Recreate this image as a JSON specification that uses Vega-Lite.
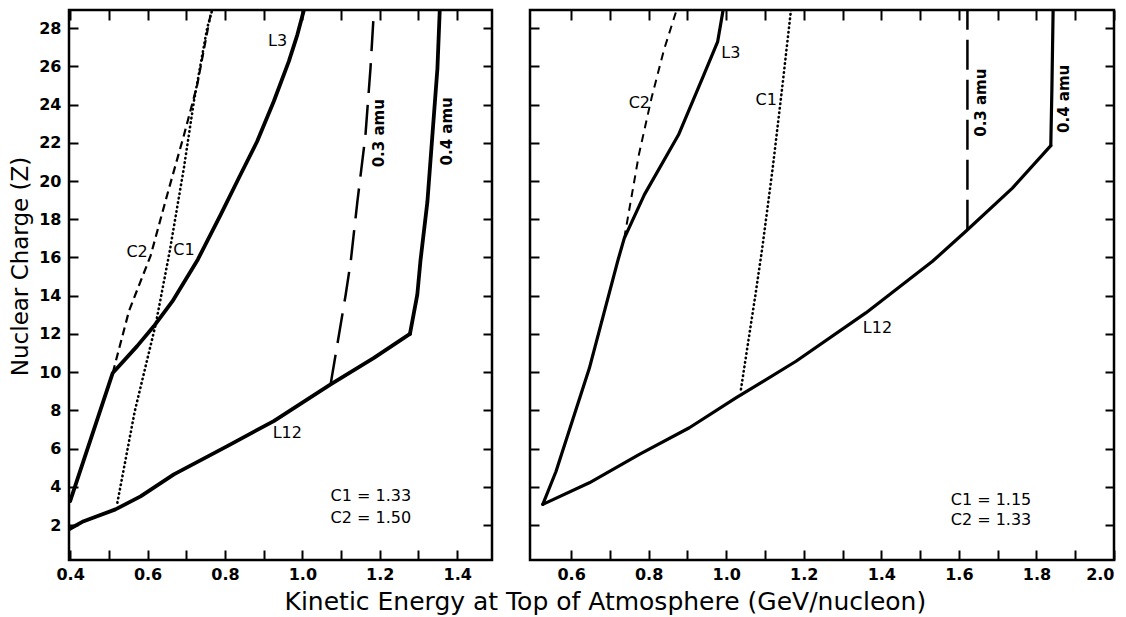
{
  "$schema": "https://vega.github.io/schema/vega-lite/v6.json",
  "background": "white",
  "padding": {"left": 8, "top": 7, "right": 0, "bottom": 0},
  "config": {
    "view": {"stroke": "black", "strokeWidth": 2.5},
    "font": "DejaVu Sans",
    "axis": {
      "domain": false, "grid": false, "tickColor": "black", "tickWidth": 2,
      "labelColor": "black", "labelFont": "DejaVu Sans", "labelFontWeight": "bold", "labelFontSize": 16,
      "titleColor": "black", "titleFont": "DejaVu Sans", "titleFontWeight": "normal", "titleFontSize": 23,
      "labelFlush": false, "labelOverlap": false
    }
  },
  "title": {"text": "Kinetic Energy at Top of Atmosphere (GeV/nucleon)", "orient": "bottom", "anchor": "middle", "fontSize": 25, "fontWeight": "normal", "font": "DejaVu Sans", "color": "black", "offset": 6, "dx": 43},
  "spacing": 32,
  "datasets": {
    "left": [
      {"series": "L3", "i": 0, "x": 0.4, "y": 3.25},
      {"series": "L3", "i": 1, "x": 0.51, "y": 9.96},
      {"series": "L3", "i": 2, "x": 0.573, "y": 11.36},
      {"series": "L3", "i": 3, "x": 0.616, "y": 12.4},
      {"series": "L3", "i": 4, "x": 0.664, "y": 13.7},
      {"series": "L3", "i": 5, "x": 0.73, "y": 15.9},
      {"series": "L3", "i": 6, "x": 0.789, "y": 18.24},
      {"series": "L3", "i": 7, "x": 0.84, "y": 20.33},
      {"series": "L3", "i": 8, "x": 0.883, "y": 22.07},
      {"series": "L3", "i": 9, "x": 0.926, "y": 24.16},
      {"series": "L3", "i": 10, "x": 0.965, "y": 26.26},
      {"series": "L3", "i": 11, "x": 0.987, "y": 27.65},
      {"series": "L3", "i": 12, "x": 1.004, "y": 28.95},
      {"series": "L12", "i": 0, "x": 0.397, "y": 1.78},
      {"series": "L12", "i": 1, "x": 0.435, "y": 2.2},
      {"series": "L12", "i": 2, "x": 0.517, "y": 2.82},
      {"series": "L12", "i": 3, "x": 0.582, "y": 3.5},
      {"series": "L12", "i": 4, "x": 0.668, "y": 4.65},
      {"series": "L12", "i": 5, "x": 0.806, "y": 6.13},
      {"series": "L12", "i": 6, "x": 0.926, "y": 7.44},
      {"series": "L12", "i": 7, "x": 1.073, "y": 9.36},
      {"series": "L12", "i": 8, "x": 1.185, "y": 10.75},
      {"series": "L12", "i": 9, "x": 1.278, "y": 12.0},
      {"series": "0.4 amu", "i": 0, "x": 1.278, "y": 12.0},
      {"series": "0.4 amu", "i": 1, "x": 1.297, "y": 14.06},
      {"series": "0.4 amu", "i": 2, "x": 1.305, "y": 15.8},
      {"series": "0.4 amu", "i": 3, "x": 1.323, "y": 18.9},
      {"series": "0.4 amu", "i": 4, "x": 1.336, "y": 22.4},
      {"series": "0.4 amu", "i": 5, "x": 1.349, "y": 25.9},
      {"series": "0.4 amu", "i": 6, "x": 1.355, "y": 28.95},
      {"series": "0.3 amu", "i": 0, "x": 1.073, "y": 9.36},
      {"series": "0.3 amu", "i": 1, "x": 1.112, "y": 14.06},
      {"series": "0.3 amu", "i": 2, "x": 1.125, "y": 15.8},
      {"series": "0.3 amu", "i": 3, "x": 1.142, "y": 18.9},
      {"series": "0.3 amu", "i": 4, "x": 1.163, "y": 22.4},
      {"series": "0.3 amu", "i": 5, "x": 1.176, "y": 25.9},
      {"series": "0.3 amu", "i": 6, "x": 1.185, "y": 28.95},
      {"series": "C2", "i": 0, "x": 0.51, "y": 9.96},
      {"series": "C2", "i": 1, "x": 0.552, "y": 13.2},
      {"series": "C2", "i": 2, "x": 0.608, "y": 16.1},
      {"series": "C2", "i": 3, "x": 0.651, "y": 19.3},
      {"series": "C2", "i": 4, "x": 0.694, "y": 22.4},
      {"series": "C2", "i": 5, "x": 0.728, "y": 25.0},
      {"series": "C2", "i": 6, "x": 0.765, "y": 28.95},
      {"series": "C1", "i": 0, "x": 0.522, "y": 3.17},
      {"series": "C1", "i": 1, "x": 0.567, "y": 7.96},
      {"series": "C1", "i": 2, "x": 0.621, "y": 12.5},
      {"series": "C1", "i": 3, "x": 0.657, "y": 16.3},
      {"series": "C1", "i": 4, "x": 0.694, "y": 20.7},
      {"series": "C1", "i": 5, "x": 0.72, "y": 24.2},
      {"series": "C1", "i": 6, "x": 0.754, "y": 28.0},
      {"series": "C1", "i": 7, "x": 0.767, "y": 28.95}
    ],
    "right": [
      {"series": "L3", "i": 0, "x": 0.527, "y": 3.08},
      {"series": "L3", "i": 1, "x": 0.561, "y": 4.8},
      {"series": "L3", "i": 2, "x": 0.647, "y": 10.2},
      {"series": "L3", "i": 3, "x": 0.72, "y": 15.8},
      {"series": "L3", "i": 4, "x": 0.737, "y": 17.0},
      {"series": "L3", "i": 5, "x": 0.789, "y": 19.29},
      {"series": "L3", "i": 6, "x": 0.877, "y": 22.42},
      {"series": "L3", "i": 7, "x": 0.939, "y": 25.4},
      {"series": "L3", "i": 8, "x": 0.978, "y": 27.3},
      {"series": "L3", "i": 9, "x": 0.992, "y": 28.95},
      {"series": "L12", "i": 0, "x": 0.527, "y": 3.08},
      {"series": "L12", "i": 1, "x": 0.647, "y": 4.21},
      {"series": "L12", "i": 2, "x": 0.776, "y": 5.7},
      {"series": "L12", "i": 3, "x": 0.905, "y": 7.09},
      {"series": "L12", "i": 4, "x": 1.025, "y": 8.65},
      {"series": "L12", "i": 5, "x": 1.18, "y": 10.57},
      {"series": "L12", "i": 6, "x": 1.36, "y": 13.1},
      {"series": "L12", "i": 7, "x": 1.532, "y": 15.8},
      {"series": "L12", "i": 8, "x": 1.618, "y": 17.37},
      {"series": "L12", "i": 9, "x": 1.738, "y": 19.63},
      {"series": "L12", "i": 10, "x": 1.837, "y": 21.85},
      {"series": "0.4 amu", "i": 0, "x": 1.837, "y": 21.85},
      {"series": "0.4 amu", "i": 1, "x": 1.84, "y": 25.0},
      {"series": "0.4 amu", "i": 2, "x": 1.843, "y": 28.95},
      {"series": "0.3 amu", "i": 0, "x": 1.622, "y": 17.45},
      {"series": "0.3 amu", "i": 1, "x": 1.622, "y": 28.95},
      {"series": "C2", "i": 0, "x": 0.737, "y": 17.0},
      {"series": "C2", "i": 1, "x": 0.775, "y": 21.4},
      {"series": "C2", "i": 2, "x": 0.808, "y": 24.4},
      {"series": "C2", "i": 3, "x": 0.84, "y": 26.9},
      {"series": "C2", "i": 4, "x": 0.872, "y": 28.95},
      {"series": "C1", "i": 0, "x": 1.038, "y": 9.1},
      {"series": "C1", "i": 1, "x": 1.075, "y": 14.0},
      {"series": "C1", "i": 2, "x": 1.093, "y": 16.5},
      {"series": "C1", "i": 3, "x": 1.12, "y": 20.7},
      {"series": "C1", "i": 4, "x": 1.145, "y": 25.0},
      {"series": "C1", "i": 5, "x": 1.167, "y": 28.95}
    ],
    "leftLabels": [
      {"kind": "curve", "label": "L3", "x": 0.936, "y": 27.34},
      {"kind": "curve", "label": "C2", "x": 0.573, "y": 16.3},
      {"kind": "curve", "label": "C1", "x": 0.694, "y": 16.4},
      {"kind": "curve", "label": "L12", "x": 0.961, "y": 6.83},
      {"kind": "mass", "label": "0.3 amu", "x": 1.198, "y": 22.5},
      {"kind": "mass", "label": "0.4 amu", "x": 1.374, "y": 22.6},
      {"kind": "note", "label": "C1 = 1.33", "x": 1.073, "y": 3.5},
      {"kind": "note", "label": "C2 = 1.50", "x": 1.073, "y": 2.38}
    ],
    "rightLabels": [
      {"kind": "curve", "label": "L3", "x": 1.012, "y": 26.7},
      {"kind": "curve", "label": "C2", "x": 0.776, "y": 24.1},
      {"kind": "curve", "label": "C1", "x": 1.103, "y": 24.25},
      {"kind": "curve", "label": "L12", "x": 1.39, "y": 12.3},
      {"kind": "mass", "label": "0.3 amu", "x": 1.657, "y": 24.1},
      {"kind": "mass", "label": "0.4 amu", "x": 1.871, "y": 24.3},
      {"kind": "note", "label": "C1 = 1.15", "x": 1.579, "y": 3.29},
      {"kind": "note", "label": "C2 = 1.33", "x": 1.579, "y": 2.25}
    ]
  },
  "hconcat": [
    {
      "width": 423, "height": 550,
      "layer": [
        {
          "data": {"name": "left"},
          "transform": [{"filter": "datum.series == 'L3' || datum.series == 'L12' || datum.series == '0.4 amu'"}],
          "mark": {"type": "line", "color": "black", "strokeWidth": 3.8, "strokeCap": "round", "strokeJoin": "round", "clip": true},
          "encoding": {
            "x": {"field": "x", "type": "quantitative", "scale": {"domain": [0.397, 1.49], "nice": false, "zero": false},
                  "axis": {"orient": "bottom", "title": null, "values": [0.4,0.5,0.6,0.7,0.8,0.9,1.0,1.1,1.2,1.3,1.4], "tickSize": -10, "labelPadding": 16.5,
                           "labelExpr": "abs(round(datum.value*10) % 2) == 0 ? format(datum.value, '.1f') : ''"}},
            "y": {"field": "y", "type": "quantitative", "scale": {"domain": [0.17, 28.95], "nice": false, "zero": false},
                  "axis": {"orient": "left", "title": "Nuclear Charge (Z)", "values": [2,4,6,8,10,12,14,16,18,20,22,24,26,28], "tickSize": -9, "labelPadding": 17, "titlePadding": 6, "titleY": 256}},
            "detail": {"field": "series"},
            "order": {"field": "i"}
          }
        },
        {
          "data": {"name": "left"},
          "transform": [{"filter": "datum.series == 'C2'"}],
          "mark": {"type": "line", "color": "black", "strokeWidth": 2.2, "strokeDash": [8, 5], "clip": true},
          "encoding": {
            "x": {"field": "x", "type": "quantitative", "scale": {"domain": [0.397, 1.49], "nice": false, "zero": false},
                  "axis": {"orient": "top", "title": null, "labels": false, "values": [0.4,0.5,0.6,0.7,0.8,0.9,1.0,1.1,1.2,1.3,1.4], "tickSize": -10}},
            "y": {"field": "y", "type": "quantitative", "scale": {"domain": [0.17, 28.95], "nice": false, "zero": false},
                  "axis": {"orient": "right", "title": null, "labels": false, "values": [2,4,6,8,10,12,14,16,18,20,22,24,26,28], "tickSize": -9}},
            "order": {"field": "i"}
          }
        },
        {
          "data": {"name": "left"},
          "transform": [{"filter": "datum.series == 'C1'"}],
          "mark": {"type": "line", "color": "black", "strokeWidth": 2.6, "strokeDash": [0.5, 4], "strokeCap": "round", "clip": true},
          "encoding": {
            "x": {"field": "x", "type": "quantitative", "axis": null},
            "y": {"field": "y", "type": "quantitative", "axis": null},
            "order": {"field": "i"}
          }
        },
        {
          "data": {"name": "left"},
          "transform": [{"filter": "datum.series == '0.3 amu'"}],
          "mark": {"type": "line", "color": "black", "strokeWidth": 2.5, "strokeDash": [30, 12], "clip": true},
          "encoding": {
            "x": {"field": "x", "type": "quantitative", "axis": null},
            "y": {"field": "y", "type": "quantitative", "axis": null},
            "order": {"field": "i"}
          }
        },
        {
          "data": {"name": "leftLabels"},
          "transform": [{"filter": "datum.kind == 'curve'"}],
          "mark": {"type": "text", "fontSize": 16, "color": "black", "font": "DejaVu Sans"},
          "encoding": {
            "x": {"field": "x", "type": "quantitative", "axis": null},
            "y": {"field": "y", "type": "quantitative", "axis": null},
            "text": {"field": "label"}
          }
        },
        {
          "data": {"name": "leftLabels"},
          "transform": [{"filter": "datum.kind == 'mass'"}],
          "mark": {"type": "text", "fontSize": 15, "fontWeight": "bold", "angle": 270, "color": "black", "font": "DejaVu Sans"},
          "encoding": {
            "x": {"field": "x", "type": "quantitative", "axis": null},
            "y": {"field": "y", "type": "quantitative", "axis": null},
            "text": {"field": "label"}
          }
        },
        {
          "data": {"name": "leftLabels"},
          "transform": [{"filter": "datum.kind == 'note'"}],
          "mark": {"type": "text", "fontSize": 16, "align": "left", "color": "black", "font": "DejaVu Sans"},
          "encoding": {
            "x": {"field": "x", "type": "quantitative", "axis": null},
            "y": {"field": "y", "type": "quantitative", "axis": null},
            "text": {"field": "label"}
          }
        }
      ]
    },
    {
      "width": 584, "height": 550,
      "layer": [
        {
          "data": {"name": "right"},
          "transform": [{"filter": "datum.series == 'L3' || datum.series == 'L12' || datum.series == '0.4 amu'"}],
          "mark": {"type": "line", "color": "black", "strokeWidth": 3.2, "strokeCap": "round", "strokeJoin": "round", "clip": true},
          "encoding": {
            "x": {"field": "x", "type": "quantitative", "scale": {"domain": [0.494, 2.0], "nice": false, "zero": false},
                  "axis": {"orient": "bottom", "title": null, "values": [0.6,0.7,0.8,0.9,1.0,1.1,1.2,1.3,1.4,1.5,1.6,1.7,1.8,1.9,2.0], "tickSize": -10, "labelPadding": 16.5, "labelFlush": true,
                           "labelExpr": "abs(round(datum.value*10) % 2) == 0 ? format(datum.value, '.1f') : ''"}},
            "y": {"field": "y", "type": "quantitative", "scale": {"domain": [0.17, 28.95], "nice": false, "zero": false},
                  "axis": {"orient": "left", "title": null, "labels": false, "values": [2,4,6,8,10,12,14,16,18,20,22,24,26,28], "tickSize": -9}},
            "detail": {"field": "series"},
            "order": {"field": "i"}
          }
        },
        {
          "data": {"name": "right"},
          "transform": [{"filter": "datum.series == 'C2'"}],
          "mark": {"type": "line", "color": "black", "strokeWidth": 2.0, "strokeDash": [8, 6], "clip": true},
          "encoding": {
            "x": {"field": "x", "type": "quantitative", "scale": {"domain": [0.494, 2.0], "nice": false, "zero": false},
                  "axis": {"orient": "top", "title": null, "labels": false, "values": [0.6,0.7,0.8,0.9,1.0,1.1,1.2,1.3,1.4,1.5,1.6,1.7,1.8,1.9,2.0], "tickSize": -10}},
            "y": {"field": "y", "type": "quantitative", "scale": {"domain": [0.17, 28.95], "nice": false, "zero": false},
                  "axis": {"orient": "right", "title": null, "labels": false, "values": [2,4,6,8,10,12,14,16,18,20,22,24,26,28], "tickSize": -9}},
            "order": {"field": "i"}
          }
        },
        {
          "data": {"name": "right"},
          "transform": [{"filter": "datum.series == 'C1'"}],
          "mark": {"type": "line", "color": "black", "strokeWidth": 2.6, "strokeDash": [0.5, 4], "strokeCap": "round", "clip": true},
          "encoding": {
            "x": {"field": "x", "type": "quantitative", "axis": null},
            "y": {"field": "y", "type": "quantitative", "axis": null},
            "order": {"field": "i"}
          }
        },
        {
          "data": {"name": "right"},
          "transform": [{"filter": "datum.series == '0.3 amu'"}],
          "mark": {"type": "line", "color": "black", "strokeWidth": 2.5, "strokeDash": [30, 10], "clip": true},
          "encoding": {
            "x": {"field": "x", "type": "quantitative", "axis": null},
            "y": {"field": "y", "type": "quantitative", "axis": null},
            "order": {"field": "i"}
          }
        },
        {
          "data": {"name": "rightLabels"},
          "transform": [{"filter": "datum.kind == 'curve'"}],
          "mark": {"type": "text", "fontSize": 16, "color": "black", "font": "DejaVu Sans"},
          "encoding": {
            "x": {"field": "x", "type": "quantitative", "axis": null},
            "y": {"field": "y", "type": "quantitative", "axis": null},
            "text": {"field": "label"}
          }
        },
        {
          "data": {"name": "rightLabels"},
          "transform": [{"filter": "datum.kind == 'mass'"}],
          "mark": {"type": "text", "fontSize": 15, "fontWeight": "bold", "angle": 270, "color": "black", "font": "DejaVu Sans"},
          "encoding": {
            "x": {"field": "x", "type": "quantitative", "axis": null},
            "y": {"field": "y", "type": "quantitative", "axis": null},
            "text": {"field": "label"}
          }
        },
        {
          "data": {"name": "rightLabels"},
          "transform": [{"filter": "datum.kind == 'note'"}],
          "mark": {"type": "text", "fontSize": 16, "align": "left", "color": "black", "font": "DejaVu Sans"},
          "encoding": {
            "x": {"field": "x", "type": "quantitative", "axis": null},
            "y": {"field": "y", "type": "quantitative", "axis": null},
            "text": {"field": "label"}
          }
        }
      ]
    }
  ]
}
